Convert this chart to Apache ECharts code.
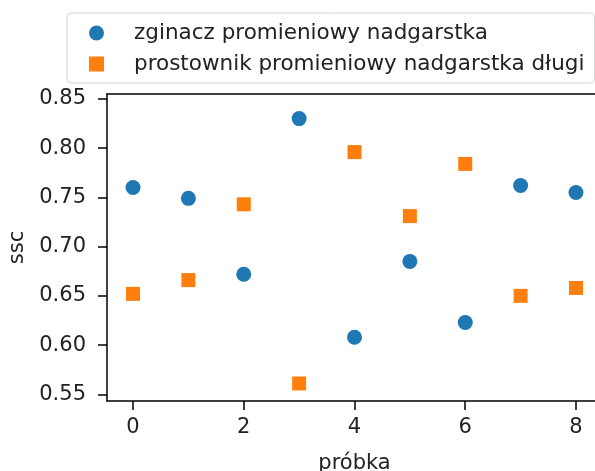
<!DOCTYPE html>
<html>
<head>
<meta charset="utf-8">
<script src="https://cdn.jsdelivr.net/npm/echarts@6/dist/echarts.min.js"></script>
<style>
  html, body { margin: 0; padding: 0; background: #fff; }
  #chart { width: 595px; height: 471px; }
</style>
</head>
<body>
<div id="chart"></div>
<script>
// dane
const probki = [0, 1, 2, 3, 4, 5, 6, 7, 8]
const zginacz = [0.760, 0.749, 0.672, 0.830, 0.608, 0.685, 0.623, 0.762, 0.755]
const prostownik = [0.652, 0.666, 0.743, 0.561, 0.796, 0.731, 0.784, 0.650, 0.658]
const xTicks = [0, 2, 4, 6, 8]
const yTicks = [0.55, 0.60, 0.65, 0.70, 0.75, 0.80, 0.85]

const font = 'DejaVu Sans'
const fs = 21
const chart = echarts.init(document.getElementById('chart'))

chart.setOption({
  animation: false,
  textStyle: { fontFamily: font },
  legend: {
    orient: 'vertical',
    left: 67,
    top: 13,
    padding: [9, 10, 8, 22],
    itemGap: 9,
    itemWidth: 15,
    itemHeight: 15,
    borderColor: '#d6d6d6',
    borderWidth: 1,
    borderRadius: 4,
    textStyle: { fontFamily: font, fontSize: 21.5, lineHeight: 21, color: '#222', padding: [0, 0, 0, 25] },
    data: [
      { name: 'zginacz promieniowy nadgarstka', icon: 'circle' },
      { name: 'prostownik promieniowy nadgarstka długi', icon: 'rect' }
    ]
  },
  grid: { left: 107, top: 94, bottom: 70, right: -7, outerBoundsMode: 'none' },
  xAxis: [
    {
      type: 'value',
      min: -0.47,
      max: 8.47,
      name: 'próbka',
      nameLocation: 'middle',
      nameGap: 52,
      nameTextStyle: { fontFamily: font, fontSize: fs, color: '#222' },
      axisLine: { show: true, onZero: false, lineStyle: { color: '#000', width: 1.5 } },
      axisTick: { show: true, customValues: xTicks, length: 9, lineStyle: { color: '#000', width: 1.5 } },
      axisLabel: { customValues: xTicks, fontFamily: font, fontSize: fs, color: '#222', margin: 16 },
      splitLine: { show: false }
    },
    {
      type: 'value',
      position: 'top',
      min: -0.47,
      max: 8.47,
      axisLine: { show: true, onZero: false, lineStyle: { color: '#000', width: 1.5 } },
      axisTick: { show: false },
      axisLabel: { show: false },
      splitLine: { show: false }
    }
  ],
  yAxis: {
    type: 'value',
    min: 0.5432,
    max: 0.855,
    name: 'ssc',
    nameLocation: 'middle',
    nameRotate: 90,
    nameGap: 78,
    nameTextStyle: { fontFamily: font, fontSize: fs, color: '#222' },
    axisLine: { show: true, onZero: false, lineStyle: { color: '#000', width: 1.5 } },
    axisTick: { show: true, customValues: yTicks, length: 9, lineStyle: { color: '#000', width: 1.5 } },
    axisLabel: {
      customValues: yTicks,
      fontFamily: font,
      fontSize: fs,
      color: '#222',
      margin: 21,
      formatter: v => v.toFixed(2)
    },
    splitLine: { show: false }
  },
  series: [
    {
      name: 'zginacz promieniowy nadgarstka',
      type: 'scatter',
      symbol: 'circle',
      symbolSize: 15,
      itemStyle: { color: '#1f77b4', opacity: 1 },
      data: probki.map((p, i) => [p, zginacz[i]])
    },
    {
      name: 'prostownik promieniowy nadgarstka długi',
      type: 'scatter',
      symbol: 'rect',
      symbolSize: 14,
      itemStyle: { color: '#ff7f0e', opacity: 1 },
      data: probki.map((p, i) => [p, prostownik[i]])
    }
  ]
})
</script>
</body>
</html>
